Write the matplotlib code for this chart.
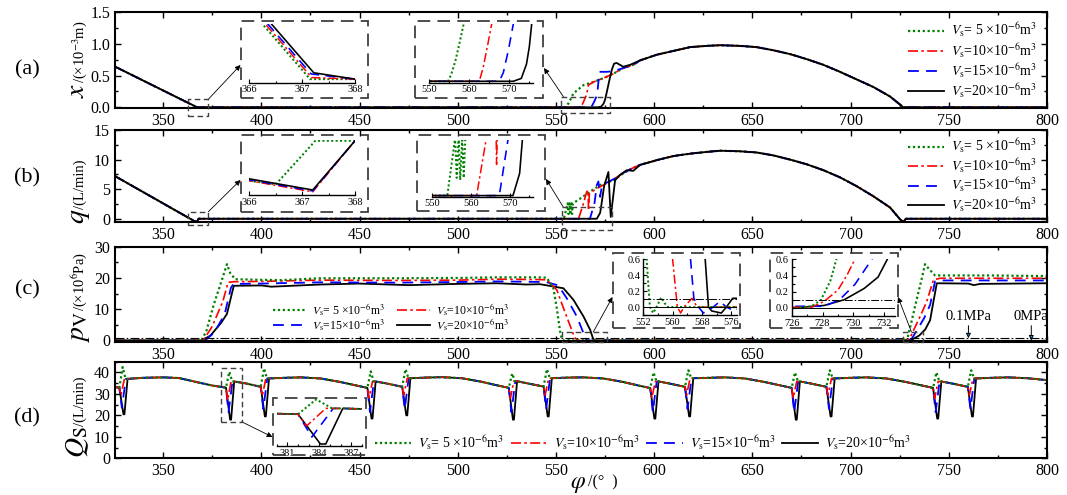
import numpy as np
import matplotlib
matplotlib.use('Agg')
import matplotlib.pyplot as plt
from matplotlib.patches import Rectangle
from matplotlib.ticker import MultipleLocator

plt.rcParams['font.family'] = ['Liberation Serif', 'DejaVu Serif']
plt.rcParams['mathtext.fontset'] = 'stix'

W, H = 1067, 495

# ---------------- data ----------------
LABELS = [r'$V_{\rm s}$= 5 ×10$^{-6}$m$^{3}$', r'$V_{\rm s}$=10×10$^{-6}$m$^{3}$',
          r'$V_{\rm s}$=15×10$^{-6}$m$^{3}$', r'$V_{\rm s}$=20×10$^{-6}$m$^{3}$']

# (a) valve lift x (1e-3 m)
A_G_PHI = [325, 367.15, 554.7, 555.5, 556.5, 557.5, 558.9, 564.0, 569.1, 574.2, 579.2, 584.3, 589.4]
A_G_X = [0.65, 0.0, 0.0, 0.025, 0.07, 0.13, 0.22, 0.35, 0.40, 0.46, 0.53, 0.62, 0.67]
A_R_PHI = [325, 367.18, 368, 562.5, 563.5, 564.5, 565.6, 566.5, 569.1, 574.2, 579.2, 584.3, 589.4]
A_R_X = [0.65, 0.0004, 0.0, 0.0, 0.05, 0.12, 0.2, 0.35, 0.40, 0.46, 0.53, 0.62, 0.67]
A_B_PHI = [325, 367.17, 368, 567.5, 568.5, 569.8, 571.0, 572.1, 575.8, 579.2, 584.3, 589.4]
A_B_X = [0.65, 0.0013, 0.0, 0.0, 0.03, 0.11, 0.2, 0.56, 0.56, 0.57, 0.62, 0.67]
A_K_PHI = [325, 367.22, 368, 571.0, 573.0, 574.3, 575.0, 575.6, 577.0, 578.5, 579.6, 580.9, 584.3, 587.7]
A_K_X = [0.65, 0.0016, 0.0, 0.0, 0.01, 0.06, 0.12, 0.2, 0.40, 0.60, 0.69, 0.70, 0.64, 0.67]
A_ARC_PHI = [592.8, 601.3, 609.8, 618.3, 626.8, 633.6, 643.7, 652.2, 660.7, 669.2, 677.7,
             686.2, 694.6, 703.1, 711.6, 720.1, 726.9, 800]
A_ARC_X = [0.74, 0.83, 0.89, 0.95, 0.97, 0.98, 0.97, 0.95, 0.90, 0.84, 0.76,
           0.67, 0.56, 0.44, 0.32, 0.17, 0.0, 0.0]

# (b) flow q (L/min)
B_G_PHI = [325, 366, 366.5, 367.25, 554, 556, 556.4, 556.9, 557.3, 557.8, 558.2, 558.6,
           562.3, 567.4, 572.5, 579.2, 583, 587, 590]
B_G_Q = [7.3, -0.43, -0.47, 0.0, 0.0, 2.6, 0.8, 2.6, 0.7, 2.6, 0.8, 2.6,
         3.4, 4.6, 5.7, 6.5, 7.4, 8.2, 8.7]
B_R_PHI = [325, 366, 367.2, 368, 561.5, 564, 565.7, 566.3, 566.6, 567.0, 568.5, 570.8,
           575.8, 580, 584, 588, 590]
B_R_Q = [7.3, -0.43, -0.55, 0.0, 0.0, 2.6, 4.6, 4.8, 1.4, 4.3, 4.6, 5.1,
         6.0, 6.8, 7.7, 8.4, 8.7]
B_B_PHI = [325, 366, 367.2, 368, 567.3, 569.6, 570.8, 571.6, 572.5, 573.3, 575.8, 580, 584, 588, 590]
B_B_Q = [7.3, -0.42, -0.54, 0.0, 0.0, 2.6, 5.7, 6.3, 3.7, 5.4, 6.1, 6.8, 7.7, 8.4, 8.7]
B_K_PHI = [325, 366, 367.2, 368, 570.8, 572.5, 573.2, 574.5, 576.7, 577.9, 580.1, 582.6, 586, 589.4]
B_K_Q = [7.3, -0.41, -0.53, 0.0, 0.0, 1.0, 2.5, 5.5, 7.9, 0.3, 6.5, 7.4, 8.2, 8.1]
B_ARC_PHI = [592.8, 601.3, 609.8, 618.3, 626.8, 633.6, 643.7, 652.2, 660.7, 669.2, 677.7,
             686.2, 694.6, 703.1, 711.6, 720.1, 725.2, 726.9, 728.2, 800]
B_ARC_Q = [9.1, 9.9, 10.6, 11.0, 11.3, 11.5, 11.4, 11.2, 10.7, 10.0, 9.2,
           8.2, 7.0, 5.5, 3.8, 1.9, -0.1, -0.5, 0.0, 0.0]

# (c) chamber pressure pV (1e6 Pa)
C_G_PHI = [325, 369.5, 372, 375.8, 380, 382.5, 384.2, 386.7, 400, 410, 430, 470, 500, 520, 540,
           545.3, 548.7, 550.4, 552.1, 552.9, 553.8, 554.7, 555.6, 556.9, 557.8, 558.7,
           726.1, 727.3, 727.9, 728.5, 728.9, 731, 734, 736.5, 737.9, 740, 743, 770, 800]
C_G_P = [0, 0, 3, 11.5, 19.5, 24.4, 21.5, 19.6, 19.4, 19.3, 19.9, 19.9, 20.0, 20.2, 20.2,
         20.1, 16.7, 10.4, 2.9, 0.6, 0.0, -0.075, 0.0, 0.12, 0.05, 0.0,
         0.0, 0.02, 0.1, 0.33, 0.6, 6.0, 14.0, 20.5, 24.4, 22.8, 20.8, 20.8, 20.6]
C_R_PHI = [325, 370.4, 375, 380.4, 383.1, 386, 400, 430, 470, 500, 520, 540, 545.3, 550.4,
           553.8, 558.9, 560.0, 561.3, 562.2, 563.1, 565.3, 566.7,
           727.3, 728.1, 729.0, 729.6, 730.1, 733, 736, 738.8, 742.2, 745.6, 800]
C_R_P = [0, 0, 4.5, 12.5, 18.6, 18.8, 18.9, 19.3, 19.2, 19.3, 19.6, 19.5, 19.4, 16.2,
         10.4, 1.9, 0.6, 0.0, -0.075, 0.0, 0.11, 0.0,
         0.01, 0.08, 0.22, 0.41, 0.6, 4.5, 8.5, 12.5, 19.4, 19.9, 19.9]
C_B_PHI = [325, 371.3, 376, 381.3, 384.5, 385.8, 400, 430, 470, 500, 520, 545, 551.2, 555.5,
           560.6, 564.3, 564.9, 565.8, 567.1, 568.4, 571.1, 572.9, 574.7, 576.9, 578.5,
           728.1, 729.1, 730.1, 731.2, 734, 737.5, 740.5, 743, 746, 800]
C_B_P = [0, 0, 2.5, 8.3, 16.8, 18.1, 18.2, 18.6, 18.5, 18.7, 18.9, 18.7, 17.6, 13.5,
         7.7, 1.9, 0.6, 0.11, 0.0, -0.075, 0.0, 0.07, 0.0, -0.05, 0.0,
         0.02, 0.1, 0.29, 0.6, 3.5, 7.2, 11.4, 18.9, 19.2, 19.2]
C_K_PHI = [325, 369.5, 374, 379.5, 382.5, 385, 386, 400, 405, 430, 450, 475, 500, 520, 535,
           541.9, 553.8, 558.9, 564.0, 567.4, 568.9, 569.8, 570.7, 573.3, 574.7, 576.4, 577.8, 579,
           726.1, 728.1, 729.4, 730.7, 731.6, 732.2, 735, 738, 740.5, 742.2, 743.9, 760, 762.7, 766, 800]
C_K_P = [0, 0, 1.5, 5.6, 8.5, 15.0, 17.5, 17.6, 17.2, 17.9, 18.2, 17.7, 18.1, 18.3, 17.9,
         18.0, 16.7, 13.0, 7.7, 3.4, 0.6, 0.0, -0.05, -0.075, 0.0, 0.11, 0.11, 0.0,
         0.0, 0.03, 0.1, 0.24, 0.38, 0.6, 1.6, 3.5, 6.5, 12.5, 18.3, 18.2, 17.7, 18.1, 18.3]
C_LINE_01MPA = 0.7      # where the 0.1 MPa dash-dot line sits in the main panel
C_INSET_LINES = (0.1, 0.0)

# (d) suction flow Qs (L/min): shared baseline + dips
D_BASE_PHI = [325, 327.7, 331.9, 340, 350, 358, 368, 375, 382,
              386.2, 392, 399.7,
              403.9, 412, 420, 430, 440, 447, 454,
              458.2, 464, 471.7,
              475.9, 484, 492, 502, 512, 519, 526,
              530.2, 536, 543.7,
              547.9, 556, 564, 574, 584, 591, 598,
              602.2, 608, 615.7,
              619.9, 628, 636, 646, 656, 663, 670,
              674.2, 680, 687.7,
              691.9, 700, 708, 718, 728, 735, 742,
              746.2, 752, 759.7,
              763.9, 772, 780, 790, 800]
D_BASE_Q = [33.2, 32.9, 37.0, 37.5, 37.7, 37.4, 35.3, 33.9, 32.9,
            35.8, 34.9, 33.3,
            37.2, 37.5, 37.7, 37.2, 35.6, 34.2, 32.8,
            35.8, 34.8, 33.3,
            37.3, 37.6, 37.8, 37.3, 35.7, 34.2, 32.8,
            35.9, 34.8, 33.4,
            37.3, 37.6, 37.7, 37.2, 35.6, 34.1, 32.7,
            35.8, 34.8, 33.3,
            37.3, 37.5, 37.7, 37.2, 35.6, 34.2, 32.8,
            35.8, 34.8, 33.3,
            37.2, 37.5, 37.7, 37.2, 35.6, 34.2, 32.8,
            35.8, 34.8, 33.3,
            37.2, 37.5, 37.7, 37.3, 36.4]
D_DIP_START = [327.7, 382, 399.7, 454, 471.7, 526, 543.7, 598, 615.7, 670, 687.7, 742, 759.7]
D_DIP_LEN = 4.2
D_PEAK_G = [42.5, 40.3, 41.9, 40.5, 41.5, 39.5, 41.5, 40.0, 41.0, 40.0, 41.0, 40.0, 41.0]
D_MIN_R = [29.5, 27.0, 29.0, 28.0, 29.5, 28.0, 29.5, 28.0, 29.5, 28.0, 29.5, 28.0, 29.5]
D_MIN_B = [23.5, 21.5, 23.0, 21.5, 23.0, 21.5, 23.0, 21.5, 23.0, 21.5, 23.0, 21.5, 23.0]
D_MIN_K = [20.5, 18.0, 19.5, 18.5, 20.0, 18.0, 19.5, 18.5, 19.5, 18.0, 19.5, 18.5, 19.5]
D_SHAPE = {'g': (1.7, 3.2), 'r': (0.8, 2.6), 'b': (1.3, 3.3), 'k': (2.1, 2.6)}

STY = {
    'g': dict(color='#008000', ls=(0, (1, 1.2)), lw=1.6),
    'r': dict(color='#ff0000', ls=(0, (6, 2, 1.5, 2)), lw=1.2),
    'b': dict(color='#0000ff', ls=(0, (6, 4)), lw=1.3),
    'k': dict(color='black', ls='-', lw=1.3),
}
BLACK_TOP = ['g', 'r', 'b', 'k']
BLACK_BOTTOM = ['k', 'b', 'r', 'g']
LEG_ORDER = ['g', 'r', 'b', 'k']


def d_series(key, values):
    phi = list(D_BASE_PHI)
    q = list(D_BASE_Q)
    o1, o2 = D_SHAPE[key]
    for s, m in zip(D_DIP_START, values):
        after = np.interp(s + D_DIP_LEN, D_BASE_PHI, D_BASE_Q)
        phi += [s + o1, s + o2]
        q += [m, m] if key == 'k' else [m, after]
    idx = np.argsort(phi)
    return np.array(phi)[idx], np.array(q)[idx]


SER_A = {'g': (A_G_PHI + A_ARC_PHI, A_G_X + A_ARC_X), 'r': (A_R_PHI + A_ARC_PHI, A_R_X + A_ARC_X),
         'b': (A_B_PHI + A_ARC_PHI, A_B_X + A_ARC_X), 'k': (A_K_PHI + A_ARC_PHI, A_K_X + A_ARC_X)}
SER_B = {'g': (B_G_PHI + B_ARC_PHI, B_G_Q + B_ARC_Q), 'r': (B_R_PHI + B_ARC_PHI, B_R_Q + B_ARC_Q),
         'b': (B_B_PHI + B_ARC_PHI, B_B_Q + B_ARC_Q), 'k': (B_K_PHI + B_ARC_PHI, B_K_Q + B_ARC_Q)}
SER_C = {'g': (C_G_PHI, C_G_P), 'r': (C_R_PHI, C_R_P), 'b': (C_B_PHI, C_B_P), 'k': (C_K_PHI, C_K_P)}
SER_D = {'g': d_series('g', D_PEAK_G), 'r': d_series('r', D_MIN_R),
         'b': d_series('b', D_MIN_B), 'k': d_series('k', D_MIN_K)}

# ---------------- figure ----------------
fig = plt.figure(figsize=(W / 100, H / 100), dpi=100)


def px_box(l, t, r, b):
    return [l / W, 1 - b / H, (r - l) / W, (b - t) / H]


def fxy(x, y):
    return (x / W, 1 - y / H)


def draw(ax, ser, order, lw=1.0):
    lines = {}
    for k in order:
        st = STY[k]
        lines[k], = ax.plot(ser[k][0], ser[k][1], color=st['color'], ls=st['ls'], lw=st['lw'] * lw)
    return lines


def main_axes(top, bottom, ylim, yticks, yminor):
    ax = fig.add_axes(px_box(115, top, 1047, bottom))
    ax.set_xlim(325.5, 800)
    ax.set_ylim(*ylim)
    ax.xaxis.set_major_locator(MultipleLocator(50))
    ax.xaxis.set_minor_locator(MultipleLocator(25))
    ax.set_yticks(yticks)
    ax.yaxis.set_minor_locator(MultipleLocator(yminor))
    ax.tick_params(which='both', direction='in', top=True, right=True, labelsize=11.5, width=1.0)
    ax.tick_params(which='major', length=4.5)
    ax.tick_params(which='minor', length=2.5)
    for s in ax.spines.values():
        s.set_linewidth(1.5)
    return ax


def make_inset(box, xlim, ylim, xticks, xminor, yticks=None, yminor=None):
    ia = fig.add_axes(px_box(*box))
    ia.set_facecolor('none')
    ia.set_xlim(*xlim)
    ia.set_ylim(*ylim)
    ia.spines['top'].set_visible(False)
    ia.spines['right'].set_visible(False)
    ia.set_xticks(xticks)
    ia.xaxis.set_minor_locator(MultipleLocator(xminor))
    if yticks is None:
        ia.spines['left'].set_visible(False)
        ia.set_yticks([])
    else:
        ia.set_yticks(yticks)
        ia.yaxis.set_minor_locator(MultipleLocator(yminor))
    ia.tick_params(which='both', direction='in', labelsize=7.5, width=0.8, pad=2)
    ia.tick_params(which='major', length=3)
    ia.tick_params(which='minor', length=1.8)
    for s in ia.spines.values():
        s.set_linewidth(1.0)
    return ia


def frame(l, t, r, b):
    fig.add_artist(Rectangle(fxy(l, b), (r - l) / W, (b - t) / H, transform=fig.transFigure,
                             fill=False, ec='#404040', lw=1.3, ls=(0, (7, 4))))


def zoom_mark(ax, rect, start, end_px):
    x0, y0, w, h = rect
    ax.add_patch(Rectangle((x0, y0), w, h, fill=False, ec='#404040', lw=1.0,
                           ls=(0, (4, 2.5)), clip_on=False, zorder=6))
    ax.annotate('', xy=fxy(*end_px), xycoords='figure fraction', xytext=start, textcoords='data',
                arrowprops=dict(arrowstyle='-|>', color='black', lw=0.6, mutation_scale=8,
                                shrinkA=0, shrinkB=0), annotation_clip=False)


PANELS = [(12.3, 108.3), (130, 222.3), (246.7, 341.7), (361.7, 458.3)]
ax_a = main_axes(*PANELS[0], (-0.016, 1.5), [0, 0.5, 1.0, 1.5], 0.25)
ax_b = main_axes(*PANELS[1], (-0.6, 15), [0, 5, 10, 15], 2.5)
ax_c = main_axes(*PANELS[2], (-0.4, 30), [0, 10, 20, 30], 5)
ax_d = main_axes(*PANELS[3], (0, 45), [0, 10, 20, 30, 40], 5)

la = draw(ax_a, SER_A, BLACK_TOP)
lb = draw(ax_b, SER_B, BLACK_TOP)
lc = draw(ax_c, SER_C, BLACK_BOTTOM)
ld = draw(ax_d, SER_D, BLACK_BOTTOM)

ax_c.axhline(C_LINE_01MPA, color='black', lw=0.8, ls=(0, (8, 2, 1.5, 2)))
ax_c.axhline(0.0, color='black', lw=0.8)
ax_c.annotate('0.1MPa', xy=(760, C_LINE_01MPA), xytext=(760, 5.6), ha='center', va='bottom',
              fontsize=10.5, arrowprops=dict(arrowstyle='-|>', lw=0.7, mutation_scale=7, shrinkA=0, shrinkB=0))
ax_c.annotate('0MPa', xy=(792, 0.0), xytext=(792, 5.6), ha='center', va='bottom',
              fontsize=10.5, arrowprops=dict(arrowstyle='-|>', lw=0.7, mutation_scale=7, shrinkA=0, shrinkB=0))

# legends
leg_kw = dict(frameon=False, borderpad=0, borderaxespad=0, bbox_transform=fig.transFigure,
              handletextpad=0.5)
for ax, lines, y, sp in ((ax_a, la, 21, 0.12), (ax_b, lb, 137, 0.07)):
    ax.legend([lines[k] for k in LEG_ORDER], LABELS, loc='upper left', bbox_to_anchor=fxy(908, y),
              fontsize=10, handlelength=2.6, labelspacing=sp, **leg_kw)
# two rows: (5, 10) on top, (15, 20) below
c_order = ['g', 'b', 'r', 'k']
ax_c.legend([lc[k] for k in c_order], [LABELS[LEG_ORDER.index(k)] for k in c_order],
            loc='center', bbox_to_anchor=fxy(391, 317),
            ncol=2, fontsize=8.5, handlelength=2.8, labelspacing=-0.1, columnspacing=1.0, **leg_kw)
ax_d.legend([ld[k] for k in LEG_ORDER], LABELS, loc='center', bbox_to_anchor=fxy(643, 443),
            ncol=4, fontsize=10, handlelength=2.6, columnspacing=0.5, **leg_kw)

# insets
ia1 = make_inset((249.3, 24, 355, 82.7), (366, 368), (-0.0009, 0.0139), [366, 367, 368], 0.5)
draw(ia1, SER_A, BLACK_TOP, 0.9)
ia2 = make_inset((429.3, 24, 533.3, 82.7), (550, 576), (-0.005, 0.2), [550, 560, 570], 5)
draw(ia2, SER_A, BLACK_TOP, 0.9)
ib1 = make_inset((249.3, 140.3, 355, 195), (366, 368), (-0.584, 0.005), [366, 367, 368], 0.5)
draw(ib1, SER_B, BLACK_TOP, 0.9)
ib2 = make_inset((431.7, 140, 533.3, 196.7), (550, 576), (-0.05, 2.5), [550, 560, 570], 5)
draw(ib2, SER_B, BLACK_TOP, 0.9)
ic1 = make_inset((643.3, 259.3, 736.7, 315), (552.5, 577.5), (-0.1, 0.6), [552, 560, 568, 576], 4,
                 [0.0, 0.2, 0.4, 0.6], 0.1)
draw(ic1, SER_C, BLACK_BOTTOM, 0.9)
ic2 = make_inset((791.7, 259.3, 895, 316), (726, 732.7), (-0.1, 0.6), [726, 728, 730, 732], 1,
                 [0.0, 0.2, 0.4, 0.6], 0.1)
draw(ic2, SER_C, BLACK_BOTTOM, 0.9)
for ia in (ic1, ic2):
    ia.axhline(C_INSET_LINES[0], color='black', lw=0.7, ls=(0, (8, 2, 1.5, 2)))
    ia.axhline(C_INSET_LINES[1], color='black', lw=0.7)
id1 = make_inset((276.7, 398, 362, 446), (380, 388), (17, 41), [381, 384, 387], 1)
draw(id1, SER_D, BLACK_BOTTOM, 0.9)

frame(240.7, 20.7, 368.3, 98.3)
frame(415, 20.7, 543.3, 98.3)
frame(240.7, 135, 368.3, 211.7)
frame(417.3, 135, 545, 211)
frame(612.7, 253.3, 740, 328.3)
frame(770, 253.3, 898.3, 328.3)
frame(272.7, 398.3, 366, 455)

zoom_mark(ax_a, (362.8, -0.138, 10.2, 0.264), (373, 0.126), (240.5, 65))
zoom_mark(ax_a, (552.4, -0.095, 25.1, 0.262), (553.8, 0.167), (544, 68))
zoom_mark(ax_b, (362.8, -1.14, 10.2, 2.32), (373, 1.18), (240.5, 180))
zoom_mark(ax_b, (552.9, -1.9, 25.5, 3.84), (553.8, 1.94), (546, 179))
zoom_mark(ax_c, (552.9, -0.48, 22.9, 3.18), (569, 2.7), (612.5, 297))
zoom_mark(ax_c, (726.9, -0.48, 10.2, 3.18), (731, 2.7), (898, 297))
zoom_mark(ax_d, (379.3, 17.0, 10.7, 24.9), (390, 17.0), (272.5, 437))

# panel tags
for tag, y in (('(a)', 70), ('(b)', 178), ('(c)', 290), ('(d)', 418)):
    fig.text(27 / W, 1 - y / H, tag, fontsize=16, ha='center', va='center')

# axis titles built from a large symbol followed by smaller text
fig.canvas.draw()
renderer = fig.canvas.get_renderer()
inv = fig.transFigure.inverted()


def ylab(x0, y0, big, small):
    t = fig.text(x0 / W, 1 - y0 / H, big, fontsize=20, rotation=90, rotation_mode='anchor',
                 ha='left', va='baseline')
    bb = t.get_window_extent(renderer)
    yy = inv.transform((0, bb.y1))[1]
    fig.text(x0 / W, yy, small, fontsize=10.5, rotation=90, rotation_mode='anchor',
             ha='left', va='baseline')


ylab(84, 98, r'$x$', '/(×10$^{-3}$m)')
ylab(84, 224, r'$q$', '/(L/min)')
ylab(84, 343, r'$p_{\mathrm{V}}$', '/(×10$^{6}$Pa)')
ylab(84, 458, r'$Q_{\mathrm{S}}$', '/(L/min)')

# x title sits just right of the "550" tick label so the two do not collide
t = fig.text(570 / W, 1 - 488 / H, r'$\varphi$', fontsize=17, ha='left', va='baseline')
bb = t.get_window_extent(renderer)
fig.text(inv.transform((bb.x1 + 2, 0))[0], 1 - 486 / H, '/(°  )', fontsize=11.5, ha='left', va='baseline')

fig.savefig('out.png', dpi=100)
